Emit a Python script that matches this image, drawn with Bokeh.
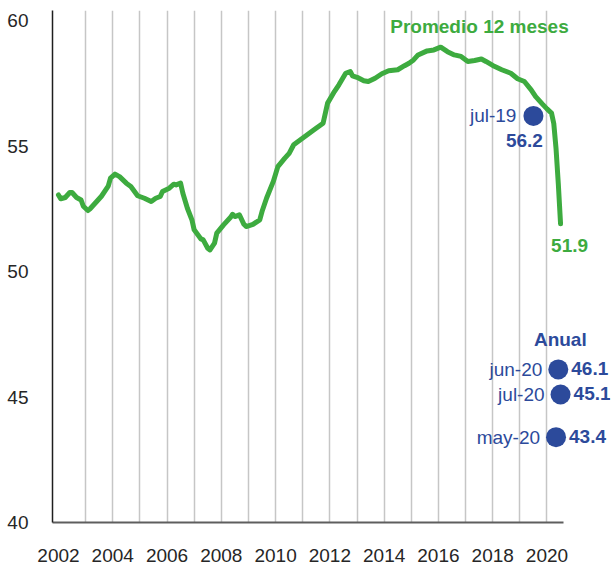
from bokeh.plotting import figure
from bokeh.models import FixedTicker, Range1d, ColumnDataSource, Label
from bokeh.core.properties import value
from bokeh.embed import file_html
from bokeh.resources import INLINE

# ---- data ----
months = [
    "2002-01", "2002-02", "2002-04", "2002-06", "2002-07", "2002-09", "2002-11", "2002-12",
    "2003-02", "2003-03", "2003-06", "2003-08", "2003-11", "2003-12",
    "2004-02", "2004-04", "2004-07", "2004-09", "2004-12",
    "2005-03", "2005-06", "2005-08", "2005-10", "2005-11",
    "2006-02", "2006-04", "2006-05", "2006-07", "2006-08", "2006-10", "2006-12",
    "2007-01", "2007-04", "2007-05", "2007-07", "2007-08", "2007-10", "2007-11",
    "2008-02", "2008-05", "2008-06", "2008-07", "2008-09", "2008-11", "2008-12",
    "2009-03", "2009-06", "2009-07", "2009-09", "2009-12",
    "2010-02", "2010-05", "2010-07", "2010-09", "2010-12",
    "2011-03", "2011-06", "2011-10", "2011-12",
    "2012-03", "2012-05", "2012-08", "2012-10", "2012-11",
    "2013-01", "2013-04", "2013-06", "2013-09", "2013-12",
    "2014-03", "2014-07", "2014-10", "2014-12",
    "2015-02", "2015-04", "2015-08", "2015-11",
    "2016-02", "2016-05", "2016-08", "2016-11",
    "2017-02", "2017-05", "2017-08", "2017-10",
    "2018-01", "2018-05", "2018-09", "2018-12",
    "2019-03", "2019-06", "2019-08", "2019-11",
    "2020-01", "2020-03", "2020-04", "2020-05", "2020-06", "2020-07",
]
prom12 = [
    53.05, 52.9, 52.95, 53.15, 53.15, 52.95, 52.85, 52.6,
    52.43, 52.5, 52.8, 53.0, 53.4, 53.72,
    53.88, 53.78, 53.52, 53.39, 53.02,
    52.92, 52.79, 52.92, 52.99, 53.19,
    53.32, 53.48, 53.45, 53.52, 53.12, 52.52, 52.06,
    51.66, 51.3, 51.26, 50.93, 50.86, 51.13, 51.53,
    51.86, 52.15, 52.28, 52.19, 52.26, 51.88, 51.79,
    51.88, 52.06, 52.39, 52.92, 53.59,
    54.18, 54.51, 54.71, 55.05, 55.25,
    55.45, 55.65, 55.91, 56.71,
    57.17, 57.44, 57.9, 57.97, 57.8,
    57.74, 57.6, 57.57, 57.7, 57.88,
    58.0, 58.04, 58.2, 58.3,
    58.43, 58.63, 58.79, 58.83,
    58.94, 58.76, 58.63, 58.57,
    58.37, 58.41, 58.47, 58.37,
    58.21, 58.04, 57.9, 57.68,
    57.57, 57.24, 56.97, 56.67,
    56.48, 56.31, 55.9, 54.9, 53.5, 51.9,
]

ref_month = ["2019-07"]
ref_label = ["jul-19"]
ref_value = [56.2]

anual_month = ["2020-06", "2020-07", "2020-05"]
anual_label = ["jun-20", "jul-20", "may-20"]
anual_value = [46.1, 45.1, 43.4]

year_ticks = [2002, 2004, 2006, 2008, 2010, 2012, 2014, 2016, 2018, 2020]
grid_years = list(range(2003, 2021))


def to_year(m):
    return int(m[:4]) + (int(m[5:]) - 1) / 12


GREEN = "#3dab3f"
BLUE = "#2c4a9b"
FONT = "Liberation Sans"
FS = "19px"

X0, X_AXIS_END, X1 = 2001.78, 2020.6, 2022.34

p = figure(
    frame_width=558, frame_height=512,
    x_range=Range1d(X0, X1), y_range=Range1d(40, 60.40),
    output_backend="svg", toolbar_location=None,
    min_border_left=52, min_border_top=10, min_border_right=2, min_border_bottom=0,
)
p.outline_line_color = None
p.background_fill_color = "white"
p.border_fill_color = "white"

# axes
p.xaxis.ticker = FixedTicker(ticks=year_ticks)
p.xaxis.bounds = (X0, X_AXIS_END)
p.yaxis.ticker = FixedTicker(ticks=[40, 45, 50, 55, 60])
for ax in (p.xaxis[0], p.yaxis[0]):
    ax.major_tick_line_color = None
    ax.minor_tick_line_color = None
    ax.major_label_text_font = FONT
    ax.major_label_text_font_size = FS
    ax.major_label_text_color = "#262626"
p.xaxis.axis_line_color = "#5e5e5e"
p.xaxis.axis_line_width = 2
p.yaxis.axis_line_color = "#1e1e1e"
p.yaxis.axis_line_width = 1.5
p.xaxis.major_label_standoff = 20
p.yaxis.major_label_standoff = 18

p.ygrid.grid_line_color = None
p.xgrid.ticker = FixedTicker(ticks=grid_years)
p.xgrid.grid_line_color = "#c6c6c6"
p.xgrid.grid_line_width = 1.5

# main line
src = ColumnDataSource(dict(x=[to_year(m) for m in months], y=prom12))
p.line("x", "y", source=src, line_color=GREEN, line_width=5, line_join="round", line_cap="round")

# end label
p.text(x=[to_year(months[-1])], y=[prom12[-1]], text=[f"{prom12[-1]:.1f}"],
       x_offset=9, y_offset=22, text_align="center", text_baseline="middle",
       text_font=value(FONT), text_font_size=FS, text_font_style="bold", text_color=GREEN)

# title-like label
p.add_layout(Label(x=2020.80, y=59.77, text="Promedio 12 meses", text_align="right",
                   text_baseline="middle", text_font=FONT, text_font_size=FS,
                   text_font_style="bold", text_color=GREEN))

# jul-19 reference point
rsrc = ColumnDataSource(dict(x=[to_year(m) for m in ref_month], y=ref_value,
                             lab=ref_label, val=[f"{v:.1f}" for v in ref_value]))
p.scatter("x", "y", source=rsrc, size=20, fill_color=BLUE, line_color=None)
p.text("x", "y", text="lab", source=rsrc, x_offset=-17, y_offset=0, text_align="right",
       text_baseline="middle", text_font=value(FONT), text_font_size=FS, text_color=BLUE)
p.text("x", "y", text="val", source=rsrc, x_offset=-9, y_offset=25, text_align="center",
       text_baseline="middle", text_font=value(FONT), text_font_size=FS,
       text_font_style="bold", text_color=BLUE)

# annual points
asrc = ColumnDataSource(dict(x=[to_year(m) for m in anual_month], y=anual_value,
                             lab=anual_label, val=[f"{v:.1f}" for v in anual_value]))
p.scatter("x", "y", source=asrc, size=20, fill_color=BLUE, line_color=None)
p.text("x", "y", text="lab", source=asrc, x_offset=-16, y_offset=0, text_align="right",
       text_baseline="middle", text_font=value(FONT), text_font_size=FS, text_color=BLUE)
p.text("x", "y", text="val", source=asrc, x_offset=13, y_offset=-1, text_align="left",
       text_baseline="middle", text_font=value(FONT), text_font_size=FS,
       text_font_style="bold", text_color=BLUE)
p.text(x=[to_year(anual_month[0])], y=[anual_value[0]], text=["Anual"],
       x_offset=2, y_offset=-30, text_align="center", text_baseline="middle",
       text_font=value(FONT), text_font_size=FS, text_font_style="bold", text_color=BLUE)

open("out.html", "w").write(file_html(p, INLINE))
